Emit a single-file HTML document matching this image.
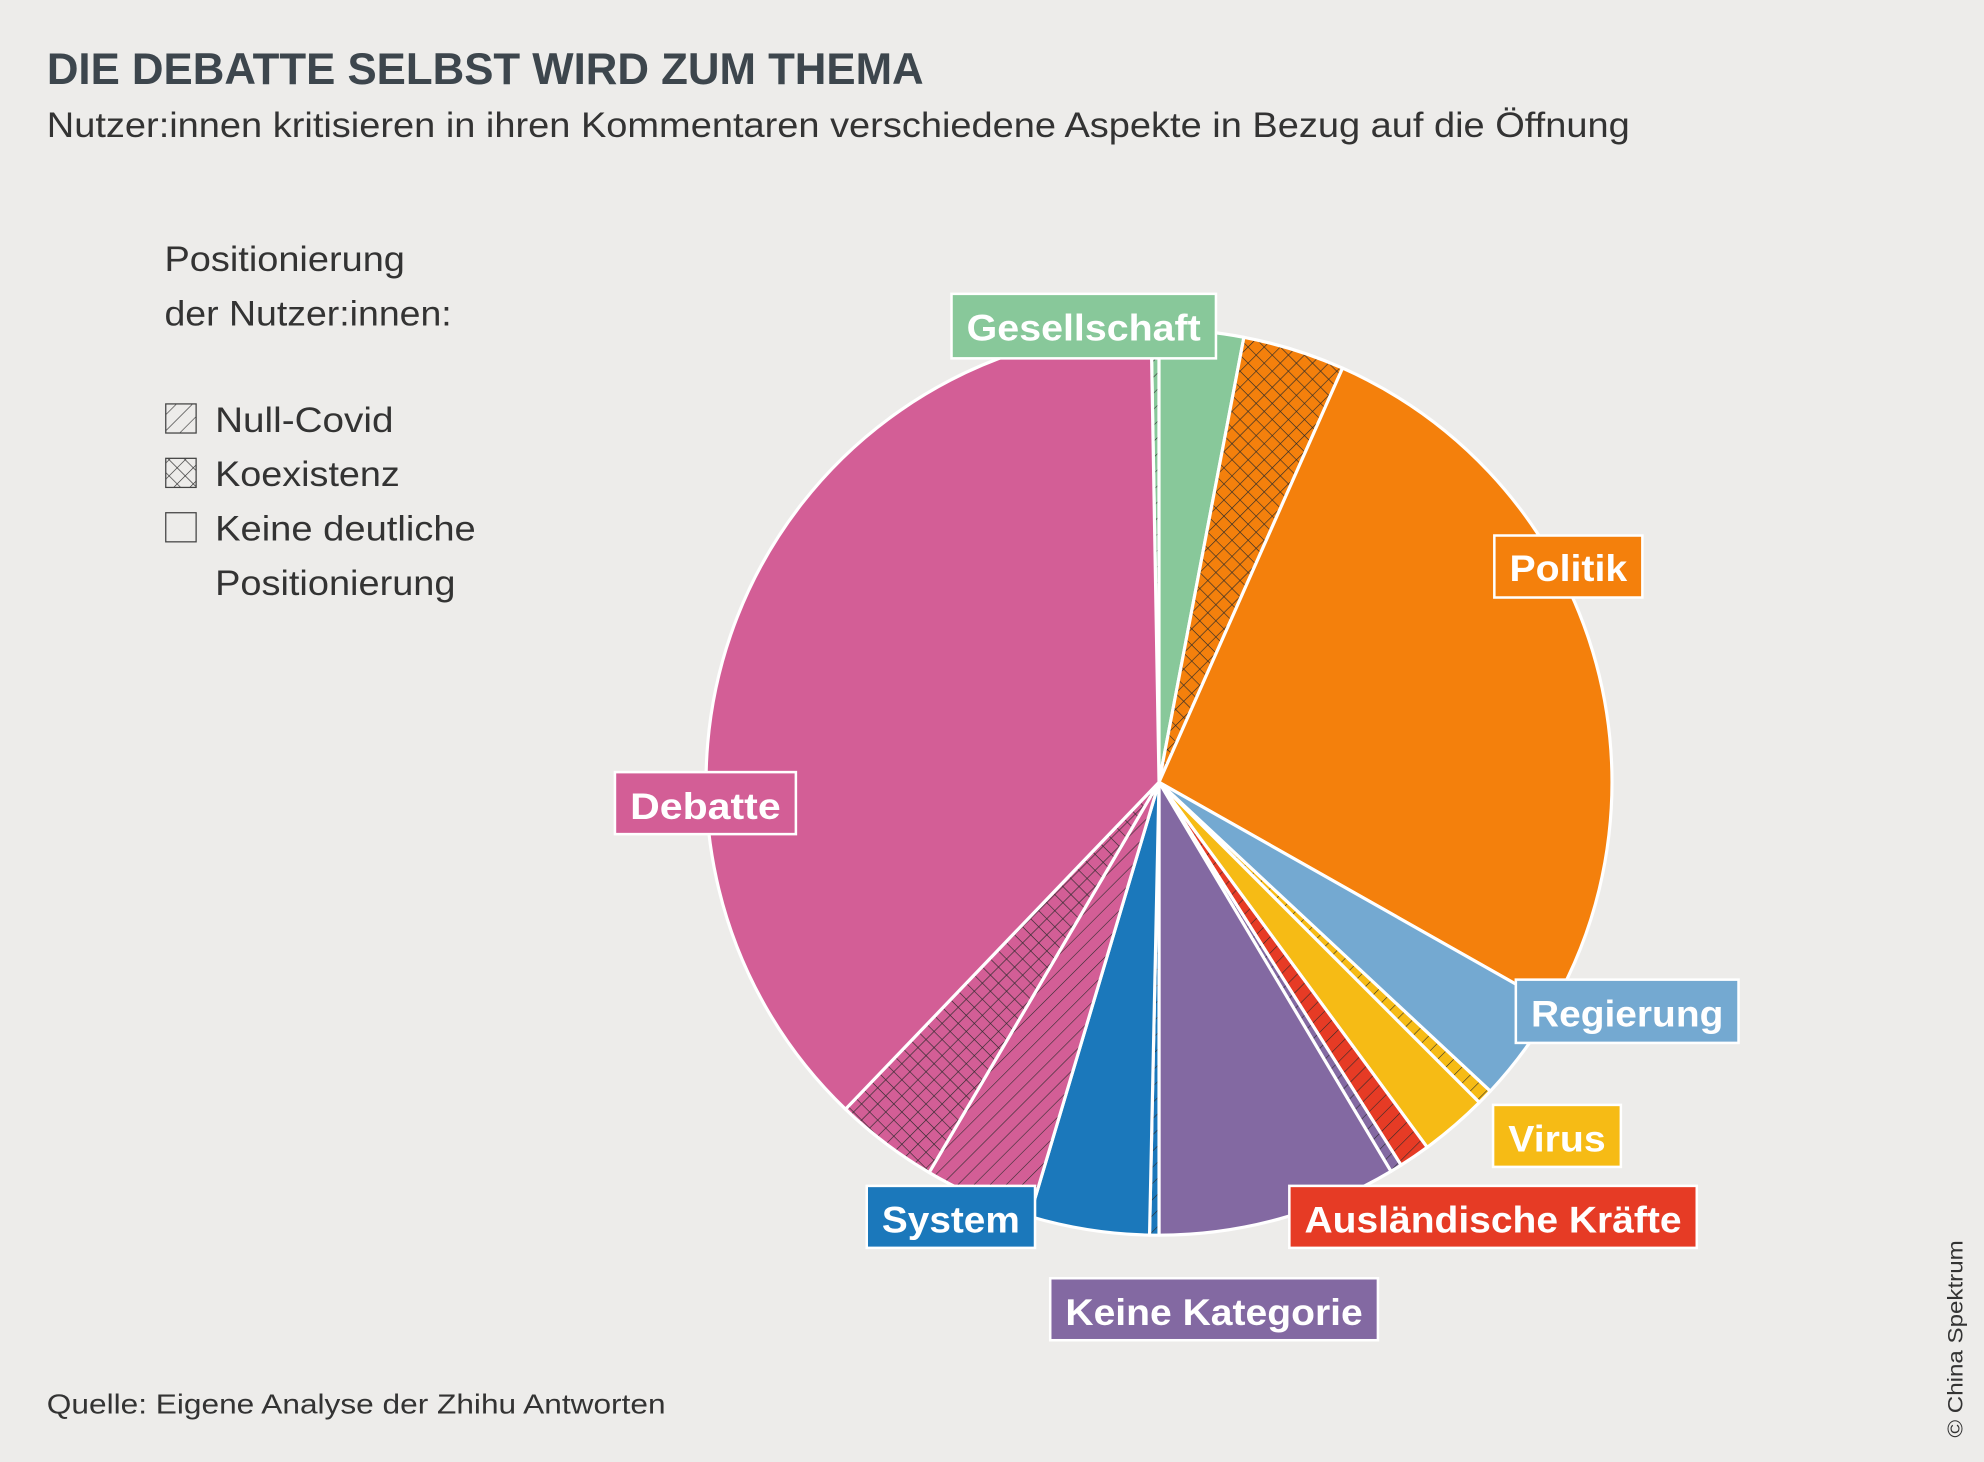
<!DOCTYPE html>
<html><head><meta charset="utf-8">
<style>
html,body{margin:0;padding:0;background:#edecea;}
svg{display:block;}
</style></head>
<body>
<svg id="s" width="1984" height="1462" viewBox="0 0 1568 1155" xmlns="http://www.w3.org/2000/svg">
<defs>
<pattern id="hatch" width="9" height="9" patternUnits="userSpaceOnUse" patternTransform="rotate(45)">
<line x1="0" y1="0" x2="0" y2="9" stroke="#2a2a2a" stroke-width="0.9"/>
</pattern>
<pattern id="cross" width="9" height="9" patternUnits="userSpaceOnUse" patternTransform="rotate(45)">
<line x1="0" y1="0" x2="0" y2="9" stroke="#2a2a2a" stroke-width="1"/>
<line x1="0" y1="0" x2="9" y2="0" stroke="#2a2a2a" stroke-width="1"/>
</pattern>
</defs>
<rect width="1568" height="1155" fill="#edecea"/>
<text x="37" y="66" font-family="Liberation Sans, sans-serif" font-weight="bold" font-size="35" fill="#3d464d" textLength="693" lengthAdjust="spacingAndGlyphs">DIE DEBATTE SELBST WIRD ZUM THEMA</text>
<text x="37" y="108" font-family="Liberation Sans, sans-serif" font-size="28" fill="#333" textLength="1251" lengthAdjust="spacingAndGlyphs">Nutzer:innen kritisieren in ihren Kommentaren verschiedene Aspekte in Bezug auf die Öffnung</text>
<g font-family="Liberation Sans, sans-serif" font-size="28" fill="#333">
<text x="130" y="214" textLength="190" lengthAdjust="spacingAndGlyphs">Positionierung</text>
<text x="130" y="257" textLength="227" lengthAdjust="spacingAndGlyphs">der Nutzer:innen:</text>
<text x="170" y="341" textLength="141" lengthAdjust="spacingAndGlyphs">Null-Covid</text>
<text x="170" y="384" textLength="146" lengthAdjust="spacingAndGlyphs">Koexistenz</text>
<text x="170" y="427" textLength="206" lengthAdjust="spacingAndGlyphs">Keine deutliche</text>
<text x="170" y="470" textLength="190" lengthAdjust="spacingAndGlyphs">Positionierung</text>
</g>
<rect x="131" y="319" width="24" height="23" fill="url(#hatch)" stroke="#444" stroke-width="1"/>
<rect x="131" y="362" width="24" height="23" fill="url(#cross)" stroke="#444" stroke-width="1"/>
<rect x="131" y="405" width="24" height="23" fill="none" stroke="#444" stroke-width="1"/>
<g id="pie"></g>
<g font-family="Liberation Sans, sans-serif" font-weight="bold" font-size="29" fill="#fff" stroke="none">
<rect x="752" y="232" width="209" height="51" fill="#88c89a" stroke="#fff" stroke-width="2"/>
<text x="856.5" y="269" text-anchor="middle" textLength="185" lengthAdjust="spacingAndGlyphs">Gesellschaft</text>
<rect x="1181" y="423" width="117" height="49" fill="#f4800c" stroke="#fff" stroke-width="2"/>
<text x="1239.5" y="459" text-anchor="middle" textLength="93" lengthAdjust="spacingAndGlyphs">Politik</text>
<rect x="486" y="610" width="143" height="49" fill="#d35e96" stroke="#fff" stroke-width="2"/>
<text x="557.5" y="647" text-anchor="middle" textLength="119" lengthAdjust="spacingAndGlyphs">Debatte</text>
<rect x="1198" y="774" width="176" height="50" fill="#74a9d1" stroke="#fff" stroke-width="2"/>
<text x="1286" y="811" text-anchor="middle" textLength="152" lengthAdjust="spacingAndGlyphs">Regierung</text>
<rect x="1180" y="873" width="101" height="49" fill="#f6bb15" stroke="#fff" stroke-width="2"/>
<text x="1230.5" y="910" text-anchor="middle" textLength="77" lengthAdjust="spacingAndGlyphs">Virus</text>
<rect x="1019" y="937" width="322" height="49" fill="#e63b25" stroke="#fff" stroke-width="2"/>
<text x="1180" y="974" text-anchor="middle" textLength="298" lengthAdjust="spacingAndGlyphs">Ausländische Kräfte</text>
<rect x="685" y="937" width="133" height="49" fill="#1b78bb" stroke="#fff" stroke-width="2"/>
<text x="751.5" y="974" text-anchor="middle" textLength="109" lengthAdjust="spacingAndGlyphs">System</text>
<rect x="830" y="1010" width="259" height="49" fill="#8369a2" stroke="#fff" stroke-width="2"/>
<text x="959.5" y="1047" text-anchor="middle" textLength="235" lengthAdjust="spacingAndGlyphs">Keine Kategorie</text>
</g>
<text x="37" y="1117" font-family="Liberation Sans, sans-serif" font-size="22" fill="#333" textLength="489" lengthAdjust="spacingAndGlyphs">Quelle: Eigene Analyse der Zhihu Antworten</text>
<text transform="translate(1551,1136) rotate(-90)" font-family="Liberation Sans, sans-serif" font-size="17" fill="#333" textLength="156" lengthAdjust="spacingAndGlyphs">© China Spektrum</text>
</svg>
<script>
(function(){
var cx=916,cy=618,r=358;
var S=[
[-1,0,'#88c89a','hatch'],
[0,10.8,'#88c89a',null],
[10.8,23.9,'#f4800c','cross'],
[23.9,119.5,'#f4800c',null],
[119.5,133,'#74a9d1',null],
[133,135,'#f6bb15','hatch'],
[135,143.7,'#f6bb15',null],
[143.7,147.7,'#e63b25','hatch'],
[147.7,149.2,'#8369a2','hatch'],
[149.2,180,'#8369a2',null],
[180,181.2,'#1b78bb','hatch'],
[181.2,196.6,'#1b78bb',null],
[196.6,210.5,'#d35e96','hatch'],
[210.5,223.8,'#d35e96','cross'],
[223.8,359,'#d35e96',null]
];
function pt(a){var t=a*Math.PI/180;return [(cx+r*Math.sin(t)).toFixed(2),(cy-r*Math.cos(t)).toFixed(2)];}
var g=document.getElementById('pie'),h='';
S.forEach(function(s){
var p0=pt(s[0]),p1=pt(s[1]),big=(s[1]-s[0])>180?1:0;
var d='M'+cx+','+cy+'L'+p0[0]+','+p0[1]+'A'+r+','+r+' 0 '+big+' 1 '+p1[0]+','+p1[1]+'Z';
h+='<path d="'+d+'" fill="'+s[2]+'"/>';
if(s[3])h+='<path d="'+d+'" fill="url(#'+s[3]+')"/>';
h+='<path d="'+d+'" fill="none" stroke="#fff" stroke-width="2.5" stroke-linejoin="round"/>';
});
g.innerHTML=h;
})();
</script>
</body></html>
